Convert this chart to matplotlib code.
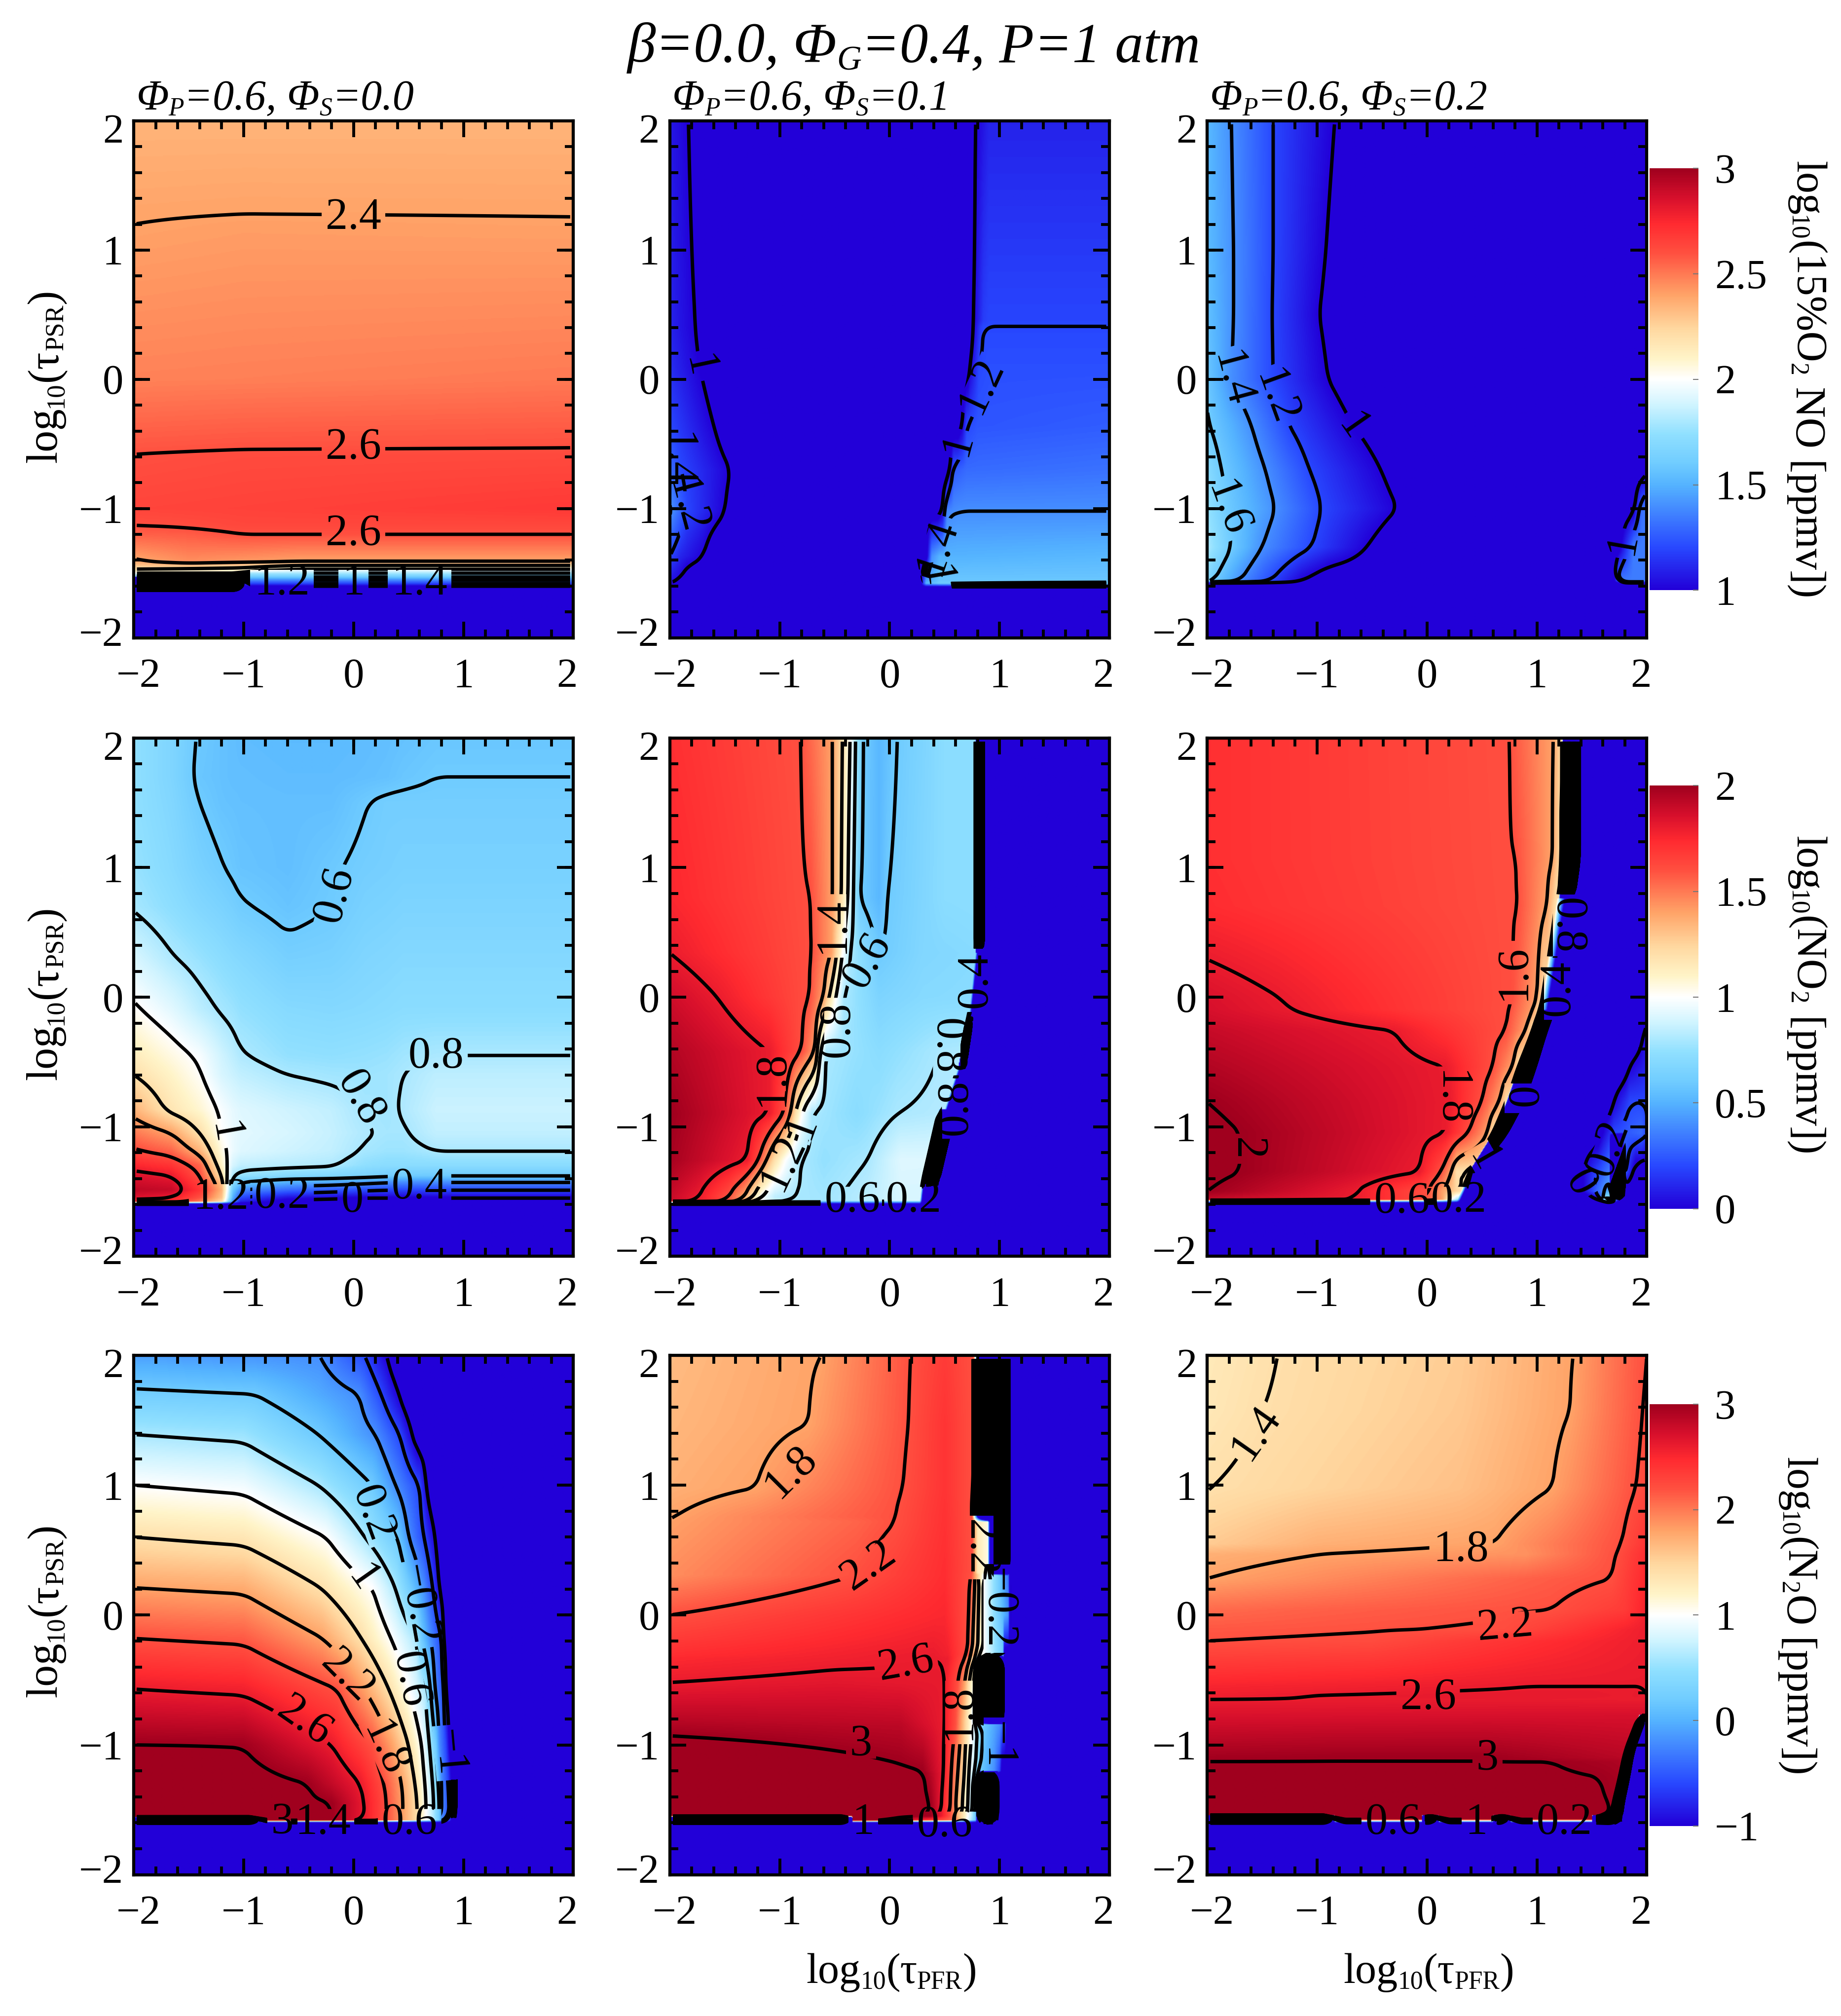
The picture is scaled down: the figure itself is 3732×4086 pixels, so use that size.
import numpy as np
import matplotlib
matplotlib.use('Agg')
import matplotlib.pyplot as plt
from matplotlib.collections import LineCollection
from matplotlib.colors import LinearSegmentedColormap
from matplotlib.path import Path
from matplotlib.transforms import ScaledTranslation

plt.rcParams['font.family'] = ['Liberation Serif', 'DejaVu Serif']

# every field: rows of (log10 tau_PSR, log10 tau_PFR knots, value at the knots)
NO_S00 = [
    (-2.0, [-2, 2], [.9, .9]),
    (-1.63, [-2, 2], [.9, .9]),
    (-1.6, [-2, -1, -.99, 2], [-20, -20, 1.0, 1.0]),
    (-1.58, [-2, -1, -.99, 2], [-14, -14, 1.2, 1.2]),
    (-1.55, [-2, -1, -.99, 2], [-5, -5, 1.42, 1.42]),
    (-1.53, [-2, -1, -.99, 2], [1.7, 1.7, 1.6, 1.6]),
    (-1.5, [-2, -1, -.99, 2], [2.0, 2.0, 1.8, 1.8]),
    (-1.47, [-2, -1, -.5, 2], [2.2, 2.15, 2.0, 2.0]),
    (-1.44, [-2, -1.5, -1, -.5, 2], [2.3, 2.33, 2.28, 2.2, 2.2]),
    (-1.41, [-2, -1.5, -.5, 2], [2.38, 2.45, 2.4, 2.4]),
    (-1.2, [-2, -1.5, -1, 2], [2.56, 2.57, 2.6, 2.6]),
    (-1.13, [-2, -1.7, -1, 2], [2.6, 2.605, 2.63, 2.63]),
    (-1.0, [-2, 2], [2.64, 2.68]),
    (-.58, [-2, -1, 2], [2.6, 2.615, 2.62]),
    (-.53, [-2, -1, 2], [2.585, 2.595, 2.6]),
    (0.0, [-2, 2], [2.48, 2.5]),
    (1.2, [-2, -1, 2], [2.4, 2.41, 2.405]),
    (1.28, [-2, -1, 2], [2.395, 2.4, 2.398]),
    (2.0, [-2, 2], [2.35, 2.35]),
]
NO_S01 = [
    (-2.0, [-2, 2], [.9, .9]),
    (-1.61, [-2, 2], [.9, .9]),
    (-1.58, [-2, -1.95, .28, .33, .45, 2], [.95, .9, .9, 1.5, 1.6, 1.62]),
    (-1.56, [-2, -1.91, -1.85, .28, .33, .45, 2], [1.05, 1.0, .9, .9, 1.45, 1.58, 1.58]),
    (-1.37, [-2, -1.9, -1.7, -1.6, .33, .38, .45, 2], [1.2, 1.1, 1.0, .9, .9, 1.4, 1.5, 1.52]),
    (-1.02, [-2, -1.85, -1.5, -1.35, .44, .48, .52, .62, 2], [1.42, 1.2, 1.0, .9, .9, 1.0, 1.38, 1.4, 1.4]),
    (-.7, [-2, -1.9, -1.45, -1.3, .52, .55, .58, .7, 2], [1.3, 1.2, 1.0, .9, .9, 1.0, 1.25, 1.3, 1.32]),
    (-.36, [-2, -1.6, -1.45, .62, .66, .7, .8, 2], [1.2, 1.0, .9, .9, 1.0, 1.2, 1.24, 1.26]),
    (.1, [-2, -1.73, -1.55, .71, .73, .81, .9, 2], [1.13, 1.0, .9, .9, 1.0, 1.2, 1.22, 1.22]),
    (.41, [-2, -1.77, -1.6, .74, .76, .82, .85, 2], [1.1, 1.0, .9, .9, 1.0, 1.16, 1.2, 1.2]),
    (.46, [-2, -1.77, -1.6, .74, .76, .85, .9, 2], [1.1, 1.0, .9, .9, 1.0, 1.17, 1.195, 1.195]),
    (2.0, [-2, -1.83, -1.7, .76, .78, .9, 2], [1.07, 1.0, .9, .9, 1.0, 1.1, 1.1]),
]
NO_S02 = [
    (-2.0, [-2, 2], [.9, .9]),
    (-1.58, [-2, 2], [.9, .9]),
    (-1.56, [-2, -1.94, -1.7, -1.42, -1.14, -.9, 1.6, 1.7, 1.75, 2],
     [1.68, 1.6, 1.4, 1.2, 1.0, .9, .9, .95, 1.35, 1.35]),
    (-1.3, [-2, -1.78, -1.5, -1.05, -.55, -.27, 1.7, 1.75, 1.88, 2],
     [1.8, 1.6, 1.4, 1.2, 1.0, .9, .9, .95, 1.35, 1.35]),
    (-1.0, [-2, -1.82, -1.38, -.96, -.27, -.1, 1.75, 1.88, 1.95, 2],
     [1.75, 1.6, 1.4, 1.2, 1.0, .9, .9, .95, 1.3, 1.35]),
    (-.7, [-2, -1.87, -1.47, -1.07, -.42, -.1, 1.93, 2], [1.7, 1.6, 1.4, 1.2, 1.0, .9, .9, .95]),
    (-.35, [-2, -1.98, -1.6, -1.26, -.68, -.27, 2], [1.61, 1.6, 1.4, 1.2, 1.0, .9, .9]),
    (0.0, [-2, -1.78, -1.4, -.9, -.6, 2], [1.58, 1.4, 1.2, 1.0, .9, .9]),
    (.5, [-2, -1.76, -1.41, -.98, -.7, 2], [1.55, 1.4, 1.2, 1.0, .9, .9]),
    (1.0, [-2, -1.76, -1.4, -.92, -.65, 2], [1.53, 1.4, 1.2, 1.0, .9, .9]),
    (2.0, [-2, -1.78, -1.4, -.84, -.5, 2], [1.52, 1.4, 1.2, 1.0, .9, .9]),
]

X_D = [-2, -1.66, -1.4, -1.2, -1.1, -1.03, -.6, -.2, .1, .3, .45, .75, 2]
NO2_S00 = [
    (-2.0, [-2, 2], [-.1, -.1]),
    (-1.6, [-2, 2], [-.1, -.1]),
    (-1.58, X_D, [1.7, 1.7, 1.5, 1.2, .4, .1, -.05, -.05, -.05, -.05, -.05, -.05, -.05]),
    (-1.55, X_D, [1.85, 1.8, 1.6, 1.3, .5, .2, .05, .02, 0, 0, 0, 0, 0]),
    (-1.49, X_D, [1.92, 1.9, 1.7, 1.35, .6, .4, .3, .26, .22, .2, .2, .2, .2]),
    (-1.43, X_D, [1.88, 1.85, 1.65, 1.3, .7, .6, .5, .48, .44, .41, .4, .4, .4]),
    (-1.38, X_D, [1.85, 1.8, 1.6, 1.2, .8, .75, .7, .68, .65, .62, .61, .6, .6]),
    (-1.3, X_D, [1.75, 1.7, 1.55, 1.1, .9, .85, .83, .81, .74, .72, .72, .72, .72]),
    (-1.19, X_D, [1.62, 1.55, 1.35, 1.05, .95, .92, .88, .85, .79, .77, .77, .8, .8]),
    (-1.05, X_D, [1.5, 1.4, 1.2, 1.0, .95, .93, .9, .86, .81, .79, .79, .85, .85]),
    (-.87, X_D, [1.35, 1.17, 1.08, .98, .94, .92, .88, .85, .79, .78, .81, .87, .87]),
    (-.6, X_D, [1.2, 1.1, 1.01, .9, .87, .85, .8, .78, .77, .78, .8, .84, .84]),
    (-.45, X_D, [1.14, 1.05, .98, .88, .84, .81, .75, .74, .75, .76, .78, .8, .8]),
    (-.1, X_D, [1.02, .93, .84, .79, .77, .75, .7, .69, .7, .71, .72, .72, .72]),
    (.3, X_D, [.9, .81, .76, .72, .7, .69, .63, .64, .67, .68, .69, .69, .69]),
    (.7, X_D, [.79, .73, .68, .65, .63, .61, .57, .6, .64, .65, .66, .66, .66]),
    (1.0, X_D, [.76, .7, .64, .605, .585, .57, .55, .59, .62, .63, .64, .64, .64]),
    (1.5, X_D, [.74, .68, .6, .565, .56, .555, .55, .55, .595, .62, .62, .62, .62]),
    (1.7, X_D, [.74, .67, .58, .56, .55, .55, .54, .54, .55, .56, .58, .6, .6]),
    (2.0, X_D, [.74, .67, .59, .56, .55, .54, .53, .53, .54, .55, .56, .58, .58]),
]
NO2_S01 = [
    (-2.0, [-2, 2], [-.1, -.1]),
    (-1.6, [-2, 2], [-.1, -.1]),
    (-1.575, [-2, -1.74, -1.47, -1.33, -1.25, -1.17, -1.05, -.88, -.6, -.3, .1, 2],
     [1.9, 1.8, 1.6, 1.4, 1.2, 1.0, .85, .8, .78, .82, .9, .9]),
    (-1.54, [-2, -1.74, -1.47, -1.33, -1.25, -1.17, -1.05, -.88, -.6, -.3, .1, 2],
     [1.9, 1.8, 1.6, 1.4, 1.2, 1.0, .85, .8, .78, .82, .9, .9]),
    (-1.26, [-2, -1.3, -1.19, -1.12, -1.05, -.95, -.81, -.6, -.2, .1, 2],
     [1.98, 1.8, 1.6, 1.4, 1.2, 1.0, .8, .75, .8, .92, .9]),
    (-.9, [-2, -1.1, -.96, -.9, -.86, -.8, -.71, -.3, .07, 2],
     [2.0, 1.8, 1.6, 1.4, 1.2, 1.0, .8, .72, .8, .9]),
    (-.42, [-2, -1.1, -.8, -.68, -.66, -.63, -.58, -.1, .45, 2],
     [1.95, 1.8, 1.6, 1.4, 1.2, 1.0, .8, .72, .8, .85]),
    (0.0, [-2, -1.57, -.73, -.6, -.55, -.49, -.42, -.1, .3, 2],
     [1.88, 1.8, 1.6, 1.4, 1.2, 1.0, .8, .66, .7, .74]),
    (.34, [-2, -.71, -.53, -.48, -.43, -.36, -.1, .3, 2],
     [1.8, 1.6, 1.4, 1.2, 1.0, .8, .6, .68, .76]),
    (.76, [-2, -.72, -.52, -.44, -.38, -.33, -.27, -.1, -.02, .5, 2],
     [1.75, 1.6, 1.4, 1.2, 1.0, .8, .6, .52, .6, .72, .76]),
    (2.0, [-2, -.81, -.52, -.43, -.36, -.31, -.24, -.1, .07, .5, 2],
     [1.72, 1.6, 1.4, 1.2, 1.0, .8, .6, .52, .6, .72, .76]),
]
# the steep edges of a panel: y, left x, right x, value reached at the right x
NO2_S01_EDGES = [
    [(-1.6, .27, .29, -.1), (-1.45, .29, .31, -.1)],
    [(-1.45, .29, .43, -20), (-.87, .45, .59, -20)],
    [(-.87, .5, .52, -.1), (-.55, .62, .64, -.1)],
    [(-.55, .62, .68, -20), (-.15, .71, .75, -20)],
    [(-.15, .72, .74, -.1), (.34, .78, .8, -.1)],
    [(.34, .78, .85, -20), (2, .78, .85, -20)],
]
BLOB = [1.39, 1.395]
NO2_S02 = [
    (-2.0, [-2, 2], [-.1, -.1]),
    (-1.59, [-2, 2], [-.1, -.1]),
    (-1.565, [-2, -.65, 0, .14, .27, 1.38] + BLOB + [1.55, 1.62, 1.7, 1.75, 2],
     [1.9, 1.8, 1.6, 1.4, .8, .8, -.1, -.1, -.1, .8, .7, -.1, -.1]),
    (-1.5, [-2, -.65, 0, .14, .3, 1.38] + BLOB + [1.42, 1.55, 1.66, 1.78, 1.79, 2],
     [2.0, 1.8, 1.6, 1.4, 1.2, 1.2, -.1, -.1, 0, .3, .5, -20, -.1, -.1]),
    (-1.35, [-2, -1.7, -.07, .13, .22, .27, 1.38] + BLOB + [1.42, 1.55, 1.66, 1.78, 1.79, 1.9, 2],
     [2.03, 2.0, 1.8, 1.6, 1.4, 1.2, 1.2, -.1, -.1, 0, .2, .35, -20, .3, -.1, -.1]),
    (-1.05, [-2, -1.7, .17, .38, .55, .6, 1.38] + BLOB + [1.56, 1.6, 1.7, 1.95, 2],
     [2.03, 2.0, 1.8, 1.6, 1.4, 1.2, 1.2, -.1, -.1, -.1, 0, .2, .3, .2]),
    (-.81, [-2, .21, .5, .66, .72, 1.38] + BLOB + [1.66, 1.7, 1.85, 2],
     [2.0, 1.8, 1.6, 1.4, 1.2, 1.2, -.1, -.1, -.1, 0, .2, .2]),
    (-.54, [-2, .17, .6, .78, .83, 1.38] + BLOB + [1.8, 1.84, 2],
     [1.95, 1.8, 1.6, 1.4, 1.2, 1.2, -.1, -.1, -.1, 0, .1]),
    (-.26, [-2, -.3, .72, .9, .96, 1.38] + BLOB + [1.93, 1.97, 2],
     [1.9, 1.8, 1.6, 1.4, 1.2, 1.2, -.1, -.1, -.1, 0, .03]),
    (-.1, [-2, -1.22, .75, .97, 1.02, 1.38] + BLOB + [2], [1.86, 1.8, 1.6, 1.4, 1.2, 1.2, -.1, -.1, -.1]),
    (0.0, [-2, -1.35, .78, 1.0, 1.06, 1.38] + BLOB + [2], [1.85, 1.8, 1.6, 1.4, 1.2, 1.2, -.1, -.1, -.1]),
    (.7, [-2, .83, 1.09, 1.17, 1.38] + BLOB + [2], [1.73, 1.6, 1.4, 1.2, 1.2, -.1, -.1, -.1]),
    (1.06, [-2, .81, 1.14, 1.22, 1.38] + BLOB + [2], [1.72, 1.6, 1.4, 1.2, 1.2, -.1, -.1, -.1]),
    (2.0, [-2, .75, 1.15, 1.23, 1.38] + BLOB + [2], [1.72, 1.6, 1.4, 1.2, 1.2, -.1, -.1, -.1]),
]
NO2_S02_EDGES = [
    [(-1.6, .26, .29, -.1), (-1.35, .38, .42, -.1)],
    [(-1.35, .38, .45, -20), (-1.05, .6, .72, -20), (-.81, .72, .87, -20), (-.54, .83, .98, -20),
     (-.26, .96, 1.08, -20), (-.1, 1.02, 1.15, -20)],
    [(-.1, 1.03, 1.1, -.1), (.76, 1.18, 1.26, -.1)],
    [(.76, 1.2, 1.33, -20), (1.06, 1.22, 1.38, -20), (2, 1.23, 1.38, -20)],
]

LOW_COL = [.89, .92, .93]
N2O_S00 = [
    (-2.0, [-2, 2], [-1.2, -1.2]),
    (-1.6, [-2, 2], [-1.2, -1.2]),
    (-1.58, [-2, -.85, -.84, -.2, .1, .3, .45, .58, .66, .73, .78, .8, .87, .89, .93, 2],
     [-20, -20, 3.3, 3, 2.6, 2.2, 1.8, 1.4, 1.0, .6, .2, -.2, -.6, -1, -1.2, -1.2]),
    (-1.555, [-2, -.2, .1, .3, .45, .58, .66, .73, .78, .8, .87] + LOW_COL + [2],
     [3.3, 3, 2.6, 2.2, 1.8, 1.4, 1.0, .6, .2, -.2, -.6, -1, -20, -1.2, -1.2]),
    (-1.45, [-2, -.2, .1, .3, .45, .58, .66, .73, .78, .8, .87] + LOW_COL + [2],
     [3.3, 3, 2.6, 2.2, 1.8, 1.4, 1.0, .6, .2, -.2, -.6, -1, -20, -1.2, -1.2]),
    (-1.3, [-2, -.42, .06, .28, .44, .56, .65, .72, .77, .8, .86] + LOW_COL + [2],
     [3.3, 3, 2.6, 2.2, 1.8, 1.4, 1.0, .6, .2, -.2, -.6, -1, -20, -1.2, -1.2]),
    (-1.0, [-2, -1, -.2, .17, .35, .5, .62, .69, .75, .78, .84, .87, .9, 2],
     [3.0, 2.99, 2.6, 2.2, 1.8, 1.4, 1.0, .6, .2, -.2, -.6, -1, -1.2, -1.2]),
    (-.57, [-2, -1, -.15, .1, .32, .5, .65, .7, .74, .82, .84, .87, 2],
     [2.6, 2.55, 2.2, 1.8, 1.4, 1.0, .6, .2, -.2, -.6, -1, -1.2, -1.2]),
    (-.18, [-2, -1, -.28, .07, .34, .57, .62, .7, .8, .82, .86, 2],
     [2.2, 2.15, 1.8, 1.4, 1.0, .6, .2, -.2, -.6, -1, -1.2, -1.2]),
    (.21, [-2, -1, -.3, .17, .38, .52, .64, .72, .78, .82, 2],
     [1.8, 1.75, 1.4, 1.0, .6, .2, -.2, -.6, -1, -1.2, -1.2]),
    (.6, [-2, -1, -.25, .1, .4, .5, .64, .74, .78, 2],
     [1.4, 1.33, 1.0, .6, .2, -.2, -.6, -1, -1.2, -1.2]),
    (1.0, [-2, -1, -.32, .17, .38, .6, .66, .7, 2], [1.0, .93, .6, .2, -.2, -.6, -1, -1.2, -1.2]),
    (1.39, [-2, -1, -.32, .2, .42, .53, .58, 2], [.6, .54, .2, -.2, -.6, -1, -1.2, -1.2]),
    (1.7, [-2, -.9, .05, .25, .41, .47, 2], [.25, .2, -.2, -.6, -1, -1.2, -1.2]),
    (2.0, [-2, -.31, .1, .3, .36, 2], [-.1, -.2, -.6, -1, -1.2, -1.2]),
]
N2O_S01 = [
    (-2.0, [-2, 2], [-1.2, -1.2]),
    (-1.6, [-2, 2], [-1.2, -1.2]),
    (-1.58, [-2, -.35, -.34, .6, .78, .97, .98, 2], [-20, -20, 3.5, 2, .2, -20, -1.2, -1.2]),
    (-1.55, [-2, .37, .47, .55, .6, .66, .71, .75, .78, .97, .98, 2],
     [3.5, 3, 2.6, 2.2, 1.8, 1.4, 1, .6, .2, -20, -1.2, -1.2]),
    (-1.45, [-2, .37, .47, .55, .6, .66, .71, .75, .78, .97, .98, 2],
     [3.5, 3, 2.6, 2.2, 1.8, 1.4, 1, .6, .2, -20, -1.2, -1.2]),
    (-1.22, [-2, .32, .49, .56, .62, .68, .72, .76, .79, .97, .98, 2],
     [3.3, 3, 2.6, 2.2, 1.8, 1.4, 1, .6, .2, -20, -1.2, -1.2]),
    (-1.2, [-2, .3, .49, .56, .62, .68, .72, .78, .82, .95, 1.0, 1.02, 2],
     [3.3, 3, 2.6, 2.2, 1.8, 1.4, 1, .6, .2, -.2, -.6, -1.2, -1.2]),
    (-.84, [-2, .1, .5, .6, .65, .7, .75, .8, .85, 1.0, 1.05, 1.06, 2],
     [2.9, 2.85, 2.6, 2.2, 1.8, 1.4, 1, .6, .2, -.2, -.6, -1.2, -1.2]),
    (-.82, [-2, .1, .5, .6, .65, .7, .75, 1.02, 1.03, 2],
     [2.88, 2.83, 2.6, 2.2, 1.8, 1.4, 1, -20, -1.2, -1.2]),
    (-.52, [-2, -.5, .49, .62, .68, .72, .77, 1.02, 1.03, 2],
     [2.6, 2.65, 2.62, 2.2, 1.8, 1.4, 1, -20, -1.2, -1.2]),
    (-.33, [-2, .43, .53, .68, .72, .78, 1.02, 1.03, 2],
     [2.48, 2.6, 2.58, 2.2, 1.8, 1.2, -20, -1.2, -1.2]),
    (-.31, [-2, .4, .53, .71, .75, .85, 1.03, 1.04, 2], [2.45, 2.6, 2.55, 2.2, 1.8, 1, .2, -1.2, -1.2]),
    (0.0, [-2, .5, .72, .85, 1.0, 1.08, 1.09, 2], [2.2, 2.5, 2.2, 1.0, .2, -.2, -1.2, -1.2]),
    (.31, [-2, -.3, .5, .74, .85, 1.0, 1.08, 1.09, 2], [1.9, 2.2, 2.45, 2.2, 1.0, .2, -.4, -1.2, -1.2]),
    (.33, [-2, -.3, .5, .75, .8, .89, 1.07, 1.08, 2], [1.9, 2.2, 2.45, 2.2, 1.3, 1.1, -20, -1.2, -1.2]),
    (.72, [-2, -.3, .05, .5, .75, .8, .89, 1.07, 1.08, 2], [1.81, 2.1, 2.2, 2.42, 2.2, 1.3, 1.1, -20, -1.2, -1.2]),
    (.76, [-2, -1.95, .05, .5, .75, 1.07, 1.08, 2], [1.79, 1.8, 2.2, 2.42, 2.2, -20, -1.2, -1.2]),
    (.98, [-2, -1.22, .12, .5, .76, 1.07, 1.08, 2], [1.72, 1.8, 2.2, 2.4, 2.2, -20, -1.2, -1.2]),
    (1.47, [-2, -.74, .17, .5, .76, 1.07, 1.08, 2], [1.68, 1.8, 2.2, 2.4, 2.2, -20, -1.2, -1.2]),
    (2.0, [-2, -.62, .19, .5, .76, 1.07, 1.08, 2], [1.65, 1.8, 2.2, 2.35, 2.2, -20, -1.2, -1.2]),
]
N2O_S02 = [
    (-2.0, [-2, 2], [-1.2, -1.2]),
    (-1.6, [-2, 2], [-1.2, -1.2]),
    (-1.57, [-2, -.85, -.84, -.05, -.04, .1, .11, .6, .61, .75, .76, 1.5, 1.51, 2],
     [-20, -20, 3.5, 3.5, -20, -20, 3.5, 3.5, -20, -20, 3.5, 3.5, -20, -20]),
    (-1.54, [-2, 1.67, 2], [3.5, 3, 3]),
    (-1.49, [-2, 1.67, 2], [3.5, 3, 3]),
    (-1.25, [-2, 1.57, 2], [3.2, 3.0, 2.9]),
    (-1.13, [-2, 1.13, 2], [3.0, 3.0, 2.9]),
    (-1.1, [-2, -.86, .55, 2], [2.98, 3.0, 3.0, 2.85]),
    (-.77, [-2, 2], [2.7, 2.72]),
    (-.65, [-2, 1.0, 1.9, 2], [2.6, 2.61, 2.6, 2.6]),
    (-.62, [-2, -1.06, .33, 1.5, 1.84, 1.9, 2], [2.57, 2.6, 2.62, 2.62, 2.6, 2.62, 2.6]),
    (-.55, [-2, .93, 2], [2.52, 2.6, 2.6]),
    (-.2, [-2, -.5, 2], [2.2, 2.23, 2.58]),
    (-.11, [-2, -.07, .71, 2], [2.16, 2.2, 2.22, 2.58]),
    (.04, [-2, -1, 1.13, 1.8, 2], [2.07, 2.12, 2.2, 2.35, 2.55]),
    (.28, [-2, 1.68, 2], [1.8, 2.2, 2.5]),
    (.47, [-2, -.95, .9, 1.72, 2], [1.72, 1.8, 1.88, 2.2, 2.45]),
    (.55, [-2, -1, .61, 1.77, 2], [1.55, 1.72, 1.8, 2.2, 2.4]),
    (.98, [-2, -1.96, .3, 1.14, 1.9, 2], [1.39, 1.4, 1.62, 1.8, 2.2, 2.25]),
    (1.57, [-2, -1.5, .3, 1.3, 1.96, 2], [1.32, 1.4, 1.57, 1.8, 2.2, 2.22]),
    (2.0, [-2, -1.36, .3, 1.33, 1.9, 2], [1.3, 1.4, 1.55, 1.8, 2.15, 2.2]),
]
N2O_S02_EDGES = [
    [(-1.6, 1.67, 1.76, -20), (-1.49, 1.68, 1.77, -20), (-1.25, 1.75, 1.83, -20), (-1.05, 1.8, 1.87, -20),
     (-.77, 1.93, 1.99, -20)],
]

# contour labels as they sit in the picture: text, x, y, rotation
LABELS_NO_S00 = [('2.4', 0, 1.25, 0), ('2.6', 0, -.53, 0), ('2.6', 0, -1.2, 0),
                 ('1.2', -.65, -1.58, 0), ('1', 0, -1.58, 0), ('1.4', .6, -1.58, 0)]
LABELS_NO_S01 = [('1', -1.74, .1, -78), ('1.2', .83, -.05, 65), ('1', .62, -.5, 75), ('1.4', .43, -1.3, 72),
                 ('1', .42, -1.53, -80), ('1.2', -1.85, -.98, -75), ('1.4', -1.95, -.62, -90)]
LABELS_NO_S02 = [('1.4', -1.78, 0, -75), ('1.2', -1.38, -.14, -70), ('1', -.68, -.37, -55),
                 ('1.6', -1.82, -1, -70), ('1', 1.78, -1.27, 80)]
LABELS_NO2_S00 = [('0.6', -.17, .79, 75), ('0.8', .06, -.78, -60), ('0.8', .75, -.46, 0), ('1', -1.18, -1.05, -80),
                  ('1.2', -1.21, -1.55, 0), ('0.2', -.65, -1.54, 0), ('0', -.01, -1.57, 0), ('0.4', .6, -1.47, 0)]
LABELS_NO2_S01 = [('1.8', -1.07, -.63, 90), ('1.4', -.52, .55, 90), ('0.6', -.2, .28, 60), ('0.8', -.47, -.25, 90),
                  ('1', -.8, -1.0, 70), ('1.2', -.97, -1.28, 65), ('0.6', -.34, -1.57, 0),
                  ('0.2', .22, -1.57, 0), ('0.4', .78, .13, 90), ('0.8', .52, -.38, -90), ('0.8', .6, -.85, 90)]
LABELS_NO2_S02 = [('1.8', .21, -.78, -90), ('2', -1.64, -1.17, -90), ('1.6', .79, .19, 90), ('0.8', 1.27, .55, -90),
                  ('0.4', 1.19, .07, 90), ('0', .83, -.78, -90), ('1', .51, -1.25, -60), ('0.6', -.23, -1.58, 0),
                  ('0.2', .29, -1.57, 0), ('0', 1.39, -1.44, -60), ('0.2', 1.65, -1.17, 70)]
LABELS_N2O_S00 = [('0.2', .17, .78, -70), ('\u22120.2', .58, .08, -80), ('1', .08, .28, -55), ('2.2', -.06, -.47, -45),
                  ('2.6', -.45, -.82, -35), ('1.8', .28, -1.03, -65), ('0.6', .51, -.5, -80), ('\u22121', .86, -1.06, -85),
                  ('3', -.65, -1.6, 0), ('1.4', -.28, -1.6, 0), ('0.6', .51, -1.6, 0)]
LABELS_N2O_S01 = [('1.8', -.9, 1.1, 45), ('2.2', -.19, .38, 35), ('2.6', .15, -.38, 10), ('3', -.26, -1, 0),
                  ('2.2', .82, .52, -90), ('\u22120.2', .98, .05, -90), ('1.8', .63, -.75, 90), ('\u22121', .98, -1.0, -90),
                  ('1', -.24, -1.6, 0), ('0.6', .5, -1.62, 0)]
LABELS_N2O_S02 = [('1.4', -1.56, 1.4, 55), ('1.8', .31, .5, 0), ('2.2', .71, -.09, 5), ('2.6', .01, -.64, 0),
                  ('3', .55, -1.11, 0), ('0.6', -.31, -1.6, 0), ('1', .45, -1.6, 0), ('0.2', 1.25, -1.6, 0)]

RANGES = [(1, 3), (0, 2), (-1, 3)]
FLOORS = [.9, -.1, -1.2]
CBAR_TICKS = [[1, 1.5, 2, 2.5, 3], [0, .5, 1, 1.5, 2], [-1, 0, 1, 2, 3]]
CBAR_TICKLABELS = [['1', '1.5', '2', '2.5', '3'], ['0', '0.5', '1', '1.5', '2'], ['\u22121', '0', '1', '2', '3']]
AXIS_TICKS = [-2, -1, 0, 1, 2]
AXIS_TICKLABELS = ['\u22122', '\u22121', '0', '1', '2']
PHI_S = ['0.0', '0.1', '0.2']

W, H = 3732, 4086
S = W / 1432  # layout was measured on the 1432 wide view
COL_X = [(104, 446), (521, 863), (939, 1281)]
ROW_Y = [(94, 496), (574, 977), (1054, 1458)]
CBAR_Y = [(131, 459), (611, 940), (1092, 1420)]

cmap = LinearSegmentedColormap.from_list('blue_white_red', [
    (0, '#2200d8'), (.1, '#2848ff'), (.25, '#55b4ff'), (.3, '#70ccff'), (.37, '#90e0ff'), (.44, '#d0f4ff'),
    (.5, '#ffffff'), (.55, '#fff4c8'), (.62, '#ffd8a0'), (.7, '#ffa468'), (.8, '#ff5040'), (.87, '#ff2a30'),
    (.93, '#d8102c'), (1, '#a0001e')])

fig = plt.figure(figsize=(W / 100, H / 100), dpi=100)
renderer = fig.canvas.get_renderer()


def field(rows, edges, floor, stop, n=600):
    grid = np.linspace(-2, 2, n)
    ys = np.array([r[0] for r in rows])
    table = np.array([np.interp(grid, r[1], r[2]) for r in rows])
    i = np.clip(np.searchsorted(ys, grid) - 1, 0, len(ys) - 2)
    t = ((grid - ys[i]) / (ys[i + 1] - ys[i]))[:, None]
    z = table[i] * (1 - t) + table[i + 1] * t
    for seg in edges:
        sy, sl, sr, sd = np.array(seg).T
        for k, y in enumerate(grid):
            if sy[0] <= y <= sy[-1]:
                left, right = np.interp(y, sy, sl), np.interp(y, sy, sr)
                depth = np.interp(y, sy, sd)
                start = np.interp(left, grid, z[k])
                ramp = (grid >= left) & (grid < right)
                z[k, ramp] = start + (depth - start) * (grid[ramp] - left) / (right - left)
                z[k, (grid >= right) & (grid < stop)] = floor
    return grid, z


def soften(seg, win=35):
    # round the corners the coarse rows leave in a contour
    w = min(win, len(seg) // 2 * 2 - 1)
    if w < 3:
        return seg
    pad = w // 2
    p = np.pad(seg, ((pad, pad), (0, 0)), mode='edge')
    kernel = np.ones(w) / w
    return np.column_stack([np.convolve(p[:, 0], kernel, 'valid'), np.convolve(p[:, 1], kernel, 'valid')])


def box(x0, x1, y0, y1):
    return [x0 * S / W, 1 - y1 * S / H, (x1 - x0) * S / W, (y1 - y0) * S / H]


def runs(px, py, parts, size, rotation=0, style='normal'):
    # mixed size text, pieces are laid one after the other along the baseline
    x, y = px * S, py * S
    for s, sub in parts:
        scale, shift = (.6, .14 * size * 100 / 72) if sub else (1, 0)
        ox, oy = {0: (0, -shift), 90: (shift, 0), 270: (-shift, 0)}[rotation]
        t = fig.text((x + ox) / W, 1 - (y - oy) / H, s, fontsize=size * scale, style=style,
                     rotation=rotation, rotation_mode='anchor', ha='left', va='baseline')
        ext = t.get_window_extent(renderer)
        pad = .25 * size * 100 / 72 * scale if s.endswith(' ') or s.startswith(' ') else 0
        if rotation == 0:
            x += ext.width + pad
        elif rotation == 90:
            y -= ext.height + pad
        else:
            y += ext.height + pad


def tick_marks(ax, ticks, length):
    # all four sides, length as a fraction of the axes
    segs = []
    for t in ticks:
        f = (t + 2) / 4
        segs += [[(f, 0), (f, length[1])], [(f, 1), (f, 1 - length[1])],
                 [(0, f), (length[0], f)], [(1, f), (1 - length[0], f)]]
    ax.add_collection(LineCollection(segs, colors='k', linewidths=4.2, transform=ax.transAxes,
                                     zorder=4, capstyle='butt'))


def draw_panel(ax, rows, labels, row, edges, stop):
    vmin, vmax = RANGES[row]
    grid, z = field(rows, edges, FLOORS[row], stop)
    im = ax.imshow(z, origin='lower', extent=(-2, 2, -2, 2), aspect='auto', cmap=cmap, vmin=vmin, vmax=vmax,
                   interpolation='bilinear', interpolation_stage='rgba')
    step = .4 if row == 2 else .2
    start = -21 if row == 2 else -20
    levels = start + step * np.arange(int((vmax + .2 - start) / step) + 1)
    cs = ax.contour(grid, grid, z, levels=np.round(levels, 2))
    segs = [soften(s) for group in cs.allsegs for s in group if len(s) > 1]
    cs.remove()
    lines = LineCollection(segs, colors='k', linewidths=5, zorder=2)
    ax.add_collection(lines)

    verts = [[(-2, -2), (2, -2), (2, 2), (-2, 2), (-2, -2)]]
    to_data = ax.transData.inverted()
    for s, x, y, rot in labels:
        t = ax.text(x, y, s, fontsize=65, ha='center', va='center', rotation=0, zorder=5,
                    rotation_mode='anchor', clip_on=False)
        ext = t.get_window_extent(renderer)
        t.set_rotation(rot)
        hw, hh = ext.width / 2 + 8, ext.height * .34
        c, sn = np.cos(np.radians(rot)), np.sin(np.radians(rot))
        centre = ax.transData.transform((x, y))
        corners = [(-hw, -hh), (-hw, hh), (hw, hh), (hw, -hh), (-hw, -hh)]
        pts = [centre + (c * a - sn * b, sn * a + c * b) for a, b in corners]
        verts.append(to_data.transform(pts).tolist())
    clip = Path.make_compound_path(*[Path(v, closed=True) for v in verts])
    lines.set_clip_path(clip, ax.transData)

    ax.set_xlim(-2, 2)
    ax.set_ylim(-2, 2)
    ax.set_axisbelow(False)
    ax.set_xticks(AXIS_TICKS, labels=AXIS_TICKLABELS)
    ax.set_yticks(AXIS_TICKS, labels=AXIS_TICKLABELS)
    ax.tick_params(which='major', direction='in', length=0, labelsize=61)
    ax.tick_params(axis='x', pad=30)
    ax.tick_params(axis='y', pad=15)
    tick_marks(ax, AXIS_TICKS, (33 / 891, 33 / 1050))
    tick_marks(ax, np.arange(-1.8, 1.9, .2), (17 / 891, 17 / 1050))
    for sp in ax.spines.values():
        sp.set_linewidth(4.5)
    # the end labels are pulled inward in the reference
    yt = ax.yaxis.get_major_ticks()
    xt = ax.xaxis.get_major_ticks()
    for tick, dx, dy in [(yt[0], 0, 9), (yt[-1], 0, -11), (xt[0], 7, 0), (xt[-1], -9, 0)]:
        lab = tick.label1
        lab.set_transform(lab.get_transform() + ScaledTranslation(dx / 72, dy / 72, fig.dpi_scale_trans))
    return im


ROWS = [[NO_S00, NO_S01, NO_S02], [NO2_S00, NO2_S01, NO2_S02], [N2O_S00, N2O_S01, N2O_S02]]
EDGES = [[[], [], []], [[], NO2_S01_EDGES, NO2_S02_EDGES], [[], [], N2O_S02_EDGES]]
STOPS = [[2.01, 2.01, 2.01], [2.01, 2.01, 1.39], [2.01, 2.01, 2.01]]
LABELS = [[LABELS_NO_S00, LABELS_NO_S01, LABELS_NO_S02], [LABELS_NO2_S00, LABELS_NO2_S01, LABELS_NO2_S02],
          [LABELS_N2O_S00, LABELS_N2O_S01, LABELS_N2O_S02]]

for r in range(3):
    for c in range(3):
        ax = fig.add_axes(box(*COL_X[c], *ROW_Y[r]))
        im = draw_panel(ax, ROWS[r][c], LABELS[r][c], r, EDGES[r][c], STOPS[r][c])
    cax = fig.add_axes(box(1283, 1321, *CBAR_Y[r]))
    cb = fig.colorbar(im, cax=cax)
    cb.outline.set_visible(False)
    cb.set_ticks(CBAR_TICKS[r], labels=CBAR_TICKLABELS[r])
    cax.tick_params(direction='in', length=8, width=1.5, color='#777777', labelsize=61, pad=24)

for c in range(3):
    x0 = COL_X[c][0] + 2
    runs(x0, 85, [('\u03a6', 0), ('P', 1), ('=0.6, \u03a6', 0), ('S', 1), ('=' + PHI_S[c], 0)], 62, style='italic')

runs(488, 48, [('\u03b2=0.0, \u03a6', 0), ('G', 1), ('=0.4, P=1 atm', 0)], 83, style='italic')

for py in (360, 840, 1320):
    runs(44, py, [('log', 0), ('10', 1), ('(\u03c4', 0), ('PSR', 1), (')', 0)], 63, rotation=90)
for px in (627, 1045):
    runs(px, 1542, [('log', 0), ('10', 1), ('(\u03c4', 0), ('PFR', 1), (')', 0)], 62)

runs(1397, 125, [('log', 0), ('10', 1), ('(15%O', 0), ('2', 1), (' NO [ppmv])', 0)], 62, rotation=270)
runs(1397, 650, [('log', 0), ('10', 1), ('(NO', 0), ('2', 1), (' [ppmv])', 0)], 62, rotation=270)
runs(1390, 1133, [('log', 0), ('10', 1), ('(N', 0), ('2', 1), ('O [ppmv])', 0)], 62, rotation=270)

fig.savefig('out.png', dpi=100, facecolor='white')
